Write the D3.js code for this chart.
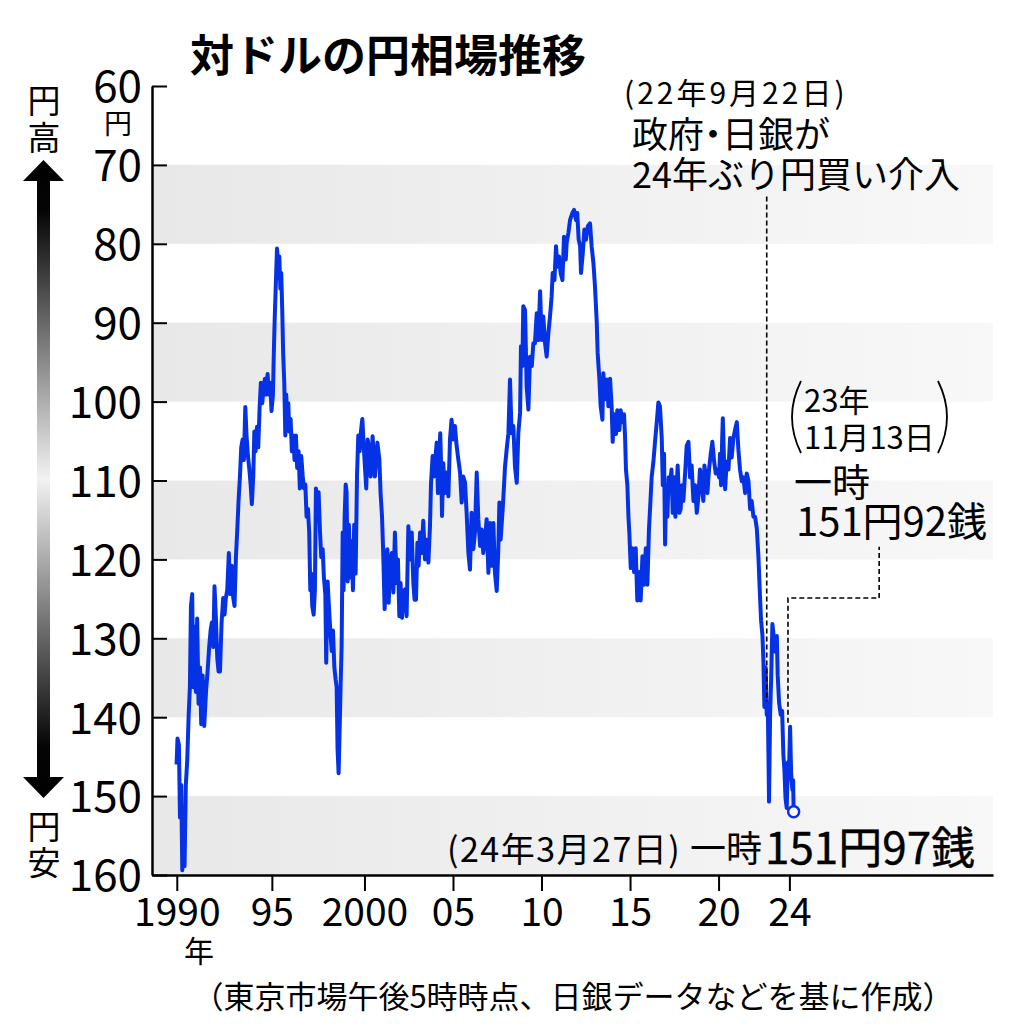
<!DOCTYPE html>
<html><head><meta charset="utf-8">
<script src="https://cdn.jsdelivr.net/npm/d3@7"></script>
<style>
body{margin:0;background:#fff}
svg{display:block}
text{font-family:"Noto Sans CJK JP","Noto Sans",sans-serif;fill:#000}
</style>
</head><body>
<svg id="chart" width="1024" height="1024"></svg>
<script>
// ---- data (decimal year, yen per dollar) ----
const datesA = [1989.39,1989.44,1989.52,1989.58,1989.65,1989.71,1989.78,1989.84,1989.91,1989.99,
1990.07,1990.14,1990.20,1990.27,1990.33,1990.40,1990.48,1990.55,1990.63,1990.71,
1990.78,1990.86,1990.95,1991.05,1991.14,1991.23,1991.31,1991.38,1991.46,1991.53,
1991.61,1991.69,1991.76,1991.84,1991.93,1992.02,1992.10,1992.17,1992.25,1992.34,
1992.42,1992.50,1992.59,1992.66,1992.74,1992.82,1992.89,1992.97,1993.04,1993.12,
1993.19,1993.27,1993.34,1993.42,1993.49,1993.57,1993.64,1993.72,1993.78,1993.85,
1993.93,1994.00,1994.08,1994.15,1994.23,1994.30,1994.38,1994.45,1994.53,1994.60,
1994.68,1994.75,1994.83,1994.89,1994.94,1995.00,1995.06,1995.13,1995.19,1995.25,
1995.30,1995.36,1995.41,1995.47,1995.53,1995.58,1995.64,1995.70,1995.75,1995.83,
1995.90,1995.98,1996.05,1996.13,1996.20,1996.28,1996.35,1996.43,1996.51,1996.58,
1996.66,1996.73,1996.81,1996.88,1996.94,1996.99,1997.05,1997.13,1997.20,1997.26,
1997.33,1997.41,1997.49,1997.56,1997.64,1997.71,1997.79,1997.84,1997.92,1997.99,
1998.07,1998.15,1998.22,1998.30,1998.37,1998.43,1998.48,1998.54,1998.60,1998.65,
1998.71,1998.77,1998.82,1998.88,1998.94,1998.99,1999.05,1999.12,1999.20,1999.27,
1999.35,1999.42,1999.50,1999.58,1999.65,1999.73,1999.80,1999.88,1999.95,2000.03,
2000.10,2000.18,2000.25];
const ratesA = [146.0,142.7,143.5,152.7,148.6,159.4,151.7,158.9,148.6,145.5,
139.8,136.2,125.9,124.4,136.2,128.5,136.8,127.5,138.3,133.7,
140.9,134.7,141.1,136.8,134.2,131.1,129.0,128.0,131.1,123.4,
127.5,132.6,134.2,134.2,128.0,124.9,127.0,124.9,123.9,119.2,
124.4,120.8,124.9,125.9,119.7,116.1,112.5,109.4,105.8,104.8,
107.4,100.7,104.3,106.9,108.4,110.5,113.0,109.4,103.8,106.3,
103.2,105.8,100.7,97.6,100.2,98.1,97.1,99.1,96.5,99.1,
97.6,101.2,99.1,92.9,88.8,84.7,80.6,82.6,81.6,85.7,
83.7,88.8,94.0,97.6,104.3,99.1,101.7,100.2,103.8,102.2,
106.3,104.3,107.4,104.3,108.4,106.3,111.0,106.9,109.4,111.0,
110.5,114.6,113.6,116.6,123.9,121.8,125.9,127.0,123.9,111.0,
113.6,111.5,116.6,119.7,118.7,122.3,124.4,133.1,122.8,125.9,
129.0,131.6,129.0,133.7,135.2,136.2,144.0,147.1,141.4,136.2,
131.1,116.6,123.9,114.6,110.5,111.5,122.8,115.6,122.3,117.7,
123.9,115.6,121.8,109.4,104.3,106.3,103.8,102.2,105.3,108.4,
111.0,104.8,105.8];

const datesB = [2000.35,2000.46,2000.59,2000.73,2000.84,2000.91,2000.99,2001.06,2001.14,2001.22,
2001.29,2001.37,2001.44,2001.54,2001.63,2001.72,2001.82,2001.89,2001.97,2002.04,
2002.12,2002.19,2002.29,2002.38,2002.48,2002.57,2002.67,2002.76,2002.83,2002.91,
2002.99,2003.06,2003.14,2003.23,2003.32,2003.42,2003.51,2003.61,2003.70,2003.76,
2003.85,2003.93,2004.00,2004.08,2004.15,2004.23,2004.28,2004.34,2004.38,2004.45,
2004.55,2004.64,2004.74,2004.83,2004.92,2005.02,2005.11,2005.21,2005.30,2005.40,
2005.49,2005.58,2005.68,2005.77,2005.87,2005.96,2006.05,2006.15,2006.24,2006.34,
2006.43,2006.53,2006.62,2006.71,2006.81,2006.90,2007.00,2007.09,2007.19,2007.28,
2007.37,2007.47,2007.56,2007.62,2007.69,2007.77,2007.84,2007.94,2008.03,2008.13,
2008.22,2008.31,2008.41,2008.50,2008.60,2008.69,2008.79,2008.84,2008.92,2008.97,
2009.07,2009.16,2009.26,2009.35,2009.45,2009.54,2009.63,2009.73,2009.82,2009.92,
2010.01,2010.10,2010.20,2010.29,2010.39,2010.48,2010.57,2010.63,2010.73,2010.82,
2010.89,2010.99,2011.08,2011.18,2011.27,2011.37,2011.42,2011.52,2011.61,2011.74,
2011.84,2011.95,2012.02,2012.10,2012.18,2012.23,2012.33,2012.42,2012.51,2012.61,
2012.74,2012.83,2012.93,2013.02,2013.12,2013.17,2013.27,2013.34,2013.44,2013.49,
2013.59,2013.68,2013.78];
const ratesB = [109.5,104.4,109.5,105.2,107.3,111.6,114.5,119.2,126.3,120.8,
118.7,125.5,120.8,119.2,124.2,116.6,123.0,120.0,127.2,123.0,
127.4,124.2,123.8,127.2,115.8,120.0,116.6,123.0,125.1,125.1,
117.9,120.8,116.6,119.2,115.1,120.0,117.5,120.4,115.8,110.3,
106.9,109.5,107.3,105.2,111.6,106.5,104.0,109.0,114.5,107.8,
111.6,109.0,112.0,104.8,102.3,104.8,103.1,105.7,107.3,109.0,
112.8,109.5,110.3,114.1,119.2,121.3,114.1,118.7,116.6,109.0,
114.9,118.3,116.2,119.2,117.5,114.9,121.7,115.4,120.8,115.4,
121.7,124.0,118.7,112.8,117.5,114.9,112.4,108.2,106.1,104.0,
97.2,104.0,103.1,108.2,110.3,104.0,101.4,93.0,95.5,87.9,
88.4,98.1,101.0,94.3,95.5,92.6,92.6,88.8,92.2,86.0,
92.2,89.2,92.6,94.3,91.3,89.2,86.7,83.7,84.6,80.3,
82.9,81.6,83.7,84.6,79.1,82.0,79.9,78.6,77.0,76.1,
75.7,77.0,76.1,79.5,80.3,83.7,81.2,78.2,79.5,77.8,
77.4,80.3,82.4,85.4,90.0,93.8,97.2,100.6,102.3,96.4,
99.7,97.2,100.6];

const datesC = [2013.87,2013.96,2014.02,2014.10,2014.21,2014.28,2014.40,2014.47,2014.59,2014.66,
2014.72,2014.77,2014.85,2014.91,2014.96,2015.04,2015.13,2015.23,2015.32,2015.41,
2015.51,2015.60,2015.70,2015.79,2015.89,2015.98,2016.07,2016.13,2016.22,2016.32,
2016.41,2016.51,2016.60,2016.69,2016.79,2016.85,2016.92,2016.98,2017.03,2017.11,
2017.18,2017.26,2017.34,2017.41,2017.49,2017.56,2017.64,2017.69,2017.79,2017.86,
2017.94,2018.01,2018.11,2018.20,2018.30,2018.39,2018.48,2018.58,2018.67,2018.77,
2018.86,2018.95,2019.05,2019.14,2019.20,2019.29,2019.37,2019.46,2019.56,2019.65,
2019.75,2019.84,2019.93,2020.03,2020.08,2020.14,2020.20,2020.24,2020.31,2020.37,
2020.46,2020.56,2020.65,2020.74,2020.84,2020.93,2021.03,2021.12,2021.21,2021.31,
2021.40,2021.50,2021.59,2021.69,2021.78,2021.87,2021.97,2022.06,2022.16,2022.25,
2022.34,2022.40,2022.48,2022.53,2022.59,2022.66,2022.72,2022.78,2022.85,2022.91,
2022.97,2023.04,2023.14,2023.21,2023.29,2023.34,2023.42,2023.51,2023.59,2023.66,
2023.72,2023.78,2023.85,2023.92,2023.97,2024.04,2024.10,2024.17,2024.21,2024.24];
const ratesC = [97.1,100.6,105.1,101.6,104.1,101.1,103.6,101.1,102.6,101.6,
104.6,108.6,110.6,114.6,116.6,121.1,118.6,121.6,118.6,125.2,
121.6,125.2,119.6,123.2,118.6,123.2,116.1,113.6,109.6,107.6,
105.1,102.6,100.1,100.6,104.6,110.6,106.6,118.1,112.1,114.6,
109.6,110.6,108.6,114.1,109.6,114.6,110.6,108.1,114.1,113.6,
110.6,112.6,109.1,105.6,105.1,109.6,108.1,112.6,110.6,114.1,
112.1,108.6,110.6,112.6,108.1,109.6,111.6,108.6,106.6,105.1,
107.6,109.1,108.6,109.6,106.6,110.6,105.1,102.1,107.6,111.1,
107.6,108.6,104.6,107.1,104.6,103.6,102.6,106.1,108.6,110.1,
109.6,111.6,109.1,110.1,113.6,112.6,114.6,114.6,116.1,119.6,
124.7,127.7,129.7,132.7,138.7,133.7,139.7,138.2,150.7,139.7,
135.2,128.2,130.2,131.7,129.7,134.7,138.2,139.7,139.2,144.7,
146.7,150.2,151.5,145.7,147.7,141.2,147.2,149.2,148.0,151.97];

const yTicks = [60,70,80,90,100,110,120,130,140,150,160];
const bands = [[70,80],[90,100],[110,120],[130,140],[150,160]];
const xTickDates = [1989.4,1994.77,2000,2005,2010,2015,2020,2024];
const xTickLabels = ["1990","95","2000","05","10","15","20","24"];

const lowDate = 2024.24, lowRate = 151.97;
const interventionDate = 2022.72, interventionLeader = [74, 138];
const nov13Date = 2023.92, nov13Leader = [140.7, 124.9], nov13ElbowDate = 2029.07, nov13Top = 118.4;

// ---- scales ----
const svg = d3.select("#chart");
const x = d3.scaleLinear().domain([1988, 2035.5]).range([152, 993]);
const y = d3.scaleLinear().domain([60, 160]).range([86, 875]);

const defs = svg.append("defs");
const bg = defs.append("linearGradient").attr("id","bandGrad").attr("x1","0").attr("x2","1").attr("y1","0").attr("y2","0");
bg.append("stop").attr("offset","0").attr("stop-color","#e8e8e8");
bg.append("stop").attr("offset","1").attr("stop-color","#f8f8f8");
const ag = defs.append("linearGradient").attr("id","arrowGrad").attr("gradientUnits","userSpaceOnUse")
  .attr("x1",0).attr("x2",0).attr("y1",160).attr("y2",798);
ag.append("stop").attr("offset","0").attr("stop-color","#000");
ag.append("stop").attr("offset","0.08").attr("stop-color","#050505");
ag.append("stop").attr("offset","0.5").attr("stop-color","#f2f2f2");
ag.append("stop").attr("offset","0.92").attr("stop-color","#050505");
ag.append("stop").attr("offset","1").attr("stop-color","#000");

// bands
svg.append("g").selectAll("rect").data(bands).join("rect")
  .attr("x", x(1988)).attr("width", x(2035.5)-x(1988))
  .attr("y", d=>y(d[0])).attr("height", d=>y(d[1])-y(d[0]))
  .attr("fill","url(#bandGrad)");

// axes
const yAxis = svg.append("g").attr("transform",`translate(${x(1988)},0)`)
  .call(d3.axisLeft(y).tickValues(yTicks).tickSize(-15).tickSizeOuter(0).tickPadding(10));
yAxis.selectAll("text").style("font-size","44px").attr("dy","0.36em");
const xAxis = svg.append("g").attr("transform",`translate(0,${y(160)})`)
  .call(d3.axisBottom(x).tickValues(xTickDates).tickFormat((d,i)=>xTickLabels[i]).tickSize(16).tickSizeOuter(0).tickPadding(7));
xAxis.selectAll("text").style("font-size","39px");
svg.selectAll(".domain").attr("stroke","#000").attr("stroke-width",2.5);
svg.selectAll(".tick line").attr("stroke","#000").attr("stroke-width",2);
svg.selectAll(".tick text").attr("fill","#000").style("font-family",'"Noto Sans CJK JP",sans-serif');

// line
const data = d3.zip(datesA.concat(datesB, datesC), ratesA.concat(ratesB, ratesC));
svg.append("path").datum(data)
  .attr("fill","none").attr("stroke","#0632e6").attr("stroke-width",4)
  .attr("stroke-linejoin","round")
  .attr("d", d3.line().x(d=>x(d[0])).y(d=>y(d[1])));

// leaders
const dash = "5,3";
svg.append("line").attr("x1",x(interventionDate)).attr("x2",x(interventionDate))
  .attr("y1",y(interventionLeader[0])).attr("y2",y(interventionLeader[1]))
  .attr("stroke","#000").attr("stroke-width",1.6).attr("stroke-dasharray",dash);
svg.append("path")
  .attr("d", `M${x(nov13Date)},${y(nov13Leader[0])}V${y(nov13Leader[1])}H${x(nov13ElbowDate)}V${y(nov13Top)}`)
  .attr("fill","none").attr("stroke","#000").attr("stroke-width",1.6).attr("stroke-dasharray",dash);

// low point
svg.append("circle").attr("cx",x(lowDate)).attr("cy",y(lowRate)).attr("r",5.5)
  .attr("fill","#fff").attr("stroke","#0632e6").attr("stroke-width",2.5);

// left arrow
svg.append("path")
  .attr("d","M43.5,160L64,181L50,181L50,777L64,777L43.5,798L23,777L37,777L37,181L23,181Z")
  .attr("fill","url(#arrowGrad)");

function txt(s, px, py, size, opts={}){
  const t = svg.append("text").attr("x",px).attr("y",py).style("font-size",size+"px").text(s);
  if(opts.anchor) t.attr("text-anchor",opts.anchor);
  if(opts.weight) t.style("font-weight",opts.weight);
  if(opts.ls) t.style("letter-spacing",opts.ls+"px");
  return t;
}
// title
txt("対ドルの円相場推移",190,72,44,{weight:"bold"});
// y unit & direction
txt("円",118,134,28,{anchor:"middle"});
txt("円",44,113,33,{anchor:"middle"});
txt("高",44,150,33,{anchor:"middle"});
txt("円",44,839,33,{anchor:"middle"});
txt("安",44,875,33,{anchor:"middle"});
// x unit
txt("年",199,962,30,{anchor:"middle"});
// footnote
txt("（東京市場午後5時時点、日銀データなどを基に作成）",573,1008,31,{anchor:"middle"});
// intervention annotation
txt("(22年9月22日)",624,104,30,{ls:3});
const t2 = svg.append("text").attr("x",632).attr("y",148).style("font-size","36px");
t2.append("tspan").text("政府");
t2.append("tspan").attr("dx",-9).text("・");
t2.append("tspan").attr("dx",-9).text("日銀が");
txt("24年ぶり円買い介入",632,188,36);
// nov 13 annotation
svg.append("path").attr("d","M801,381Q783,417 801,453").attr("fill","none").attr("stroke","#000").attr("stroke-width",1.8);
svg.append("path").attr("d","M938,381Q956,417 938,453").attr("fill","none").attr("stroke","#000").attr("stroke-width",1.8);
txt("23年",804,412,31);
txt("11月13日",804,449,31);
txt("一時",794,496,38);
txt("151円92銭",796,536,40);
// low annotation
txt("(24年3月27日)",447,862,34,{ls:1.5});
txt("一時",690,862,36);
txt("151円97銭",765,864,44).attr("stroke","#000").attr("stroke-width",0.4);
</script>
</body></html>
